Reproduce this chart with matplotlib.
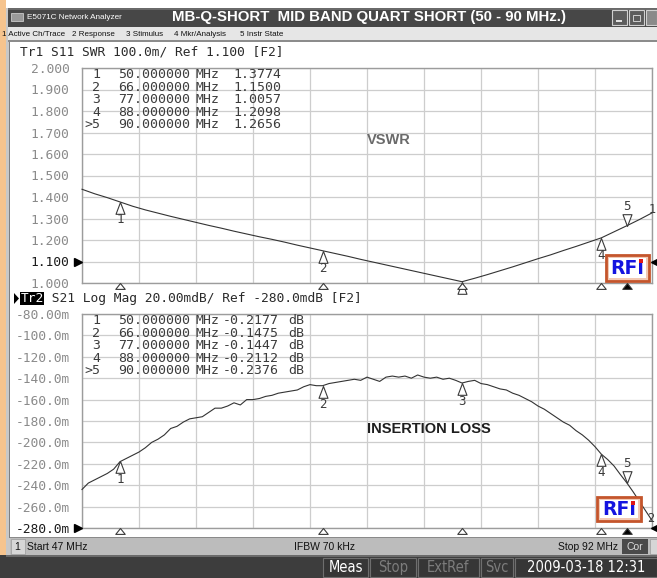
import numpy as np
import matplotlib
matplotlib.use('Agg')
import matplotlib.pyplot as plt
from matplotlib.patches import Rectangle, Polygon
from matplotlib.path import Path
from matplotlib.transforms import blended_transform_factory

# ---------------- data ----------------
start_mhz = 47.0
stop_mhz = 92.0

vswr_freq_mhz = [47, 48, 49, 50, 51, 52, 53, 54, 55, 56, 57, 58, 59, 60, 61, 62,
                 63, 64, 65, 66, 67, 68, 69, 70, 71, 72, 73, 74, 75, 76, 77, 78,
                 79, 80, 81, 82, 83, 84, 85, 86, 87, 88, 89, 90, 91, 92]
vswr_values = [1.436, 1.415, 1.397, 1.377, 1.357, 1.340, 1.325, 1.310, 1.296, 1.282,
               1.268, 1.255, 1.241, 1.228, 1.215, 1.203, 1.190, 1.176, 1.163, 1.150,
               1.137, 1.124, 1.110, 1.097, 1.084, 1.071, 1.058, 1.045, 1.032, 1.019,
               1.006, 1.022, 1.039, 1.057, 1.075, 1.094, 1.113, 1.131, 1.151, 1.170,
               1.190, 1.210, 1.238, 1.266, 1.295, 1.326]

il_freq_mhz = np.linspace(start_mhz, stop_mhz, 91)
il_values_mdb = [-244, -238, -235, -232, -229, -225, -218, -215, -212, -209,
                 -205, -200, -197, -193, -187, -185, -181, -178, -177, -176,
                 -172, -168, -168, -166, -163, -165, -160, -160, -159, -157,
                 -156, -154, -153, -152, -151, -148, -146, -147, -147, -145,
                 -144, -143, -142, -141, -142, -139, -141, -143, -139, -138,
                 -139, -138, -140, -137, -139, -140, -139, -141, -140, -142,
                 -144.5, -143, -142, -145, -146, -148, -150, -151, -154, -156,
                 -159, -162, -166, -169, -173, -177, -181, -184, -189, -193,
                 -198, -204, -211, -216, -222, -230, -237.6, -246, -255, -264, -273]

marker_ids = ['1', '2', '3', '4', '5']
marker_table_ids = ['1', '2', '3', '4', '>5']
marker_freq_mhz = [50.0, 66.0, 77.0, 88.0, 90.0]
marker_vswr = [1.3774, 1.1500, 1.0057, 1.2098, 1.2656]
marker_il_db = [-0.2177, -0.1475, -0.1447, -0.2112, -0.2376]
active_marker = 4

vswr_ticks = [1.0, 1.1, 1.2, 1.3, 1.4, 1.5, 1.6, 1.7, 1.8, 1.9, 2.0]
vswr_tick_labels = ['1.000', '1.100', '1.200', '1.300', '1.400', '1.500',
                    '1.600', '1.700', '1.800', '1.900', '2.000']
vswr_ref = 1.1
il_ticks = [-280, -260, -240, -220, -200, -180, -160, -140, -120, -100, -80]
il_tick_labels = ['-280.0m', '-260.0m', '-240.0m', '-220.0m', '-200.0m', '-180.0m',
                  '-160.0m', '-140.0m', '-120.0m', '-100.0m', '-80.00m']
il_ref = -280

# ---------------- layout helpers ----------------
W, H = 657, 578
fig = plt.figure(figsize=(W / 100, H / 100), dpi=100)
fig.patch.set_facecolor('white')
MONO = 'DejaVu Sans Mono'
SANS = 'Liberation Sans'


def fx(x):
    return x / W


def fy(y):
    return 1 - y / H


def rect(x0, y0, x1, y1, fc, ec='none', lw=0, z=0):
    r = Rectangle((fx(x0), fy(y1)), (x1 - x0) / W, (y1 - y0) / H,
                  transform=fig.transFigure, facecolor=fc, edgecolor=ec,
                  linewidth=lw, zorder=z)
    fig.patches.append(r)
    return r


def poly(pts, fc, ec='none', lw=0, z=3):
    p = Polygon([(fx(a), fy(b)) for a, b in pts], closed=True,
                transform=fig.transFigure, facecolor=fc, edgecolor=ec,
                linewidth=lw, zorder=z)
    fig.patches.append(p)


def ftext(x, y, s, **kw):
    kw.setdefault('va', 'center')
    return fig.text(fx(x), fy(y), s, **kw)


def tri_path(pts):
    return Path(pts + [pts[0]],
                [Path.MOVETO, Path.LINETO, Path.LINETO, Path.CLOSEPOLY])


# ---------------- window chrome ----------------
rect(0, 0, 6, H, '#f6c48e')
rect(6, 8, 10, H, '#c8c8c8')
rect(9, 41, 10, 538, '#808080')
# title bar
rect(8, 8, W, 27, '#474747')
rect(8, 8, W, 10, '#6a6a6a')
rect(11, 13, 23, 21, '#9a9a9a', ec='#dddddd', lw=0.5)
ftext(27, 17.5, 'E5071C Network Analyzer', color='white', fontsize=5.9,
      family=['Liberation Sans Narrow', SANS])
ftext(172, 17, 'MB-Q-SHORT  MID BAND QUART SHORT (50 - 90 MHz.)', color='white',
      fontsize=10.8, fontweight='bold', family=SANS)
for bx0, bx1 in [(612, 627), (629, 644)]:
    rect(bx0, 10, bx1, 25, '#5c5c5c', ec='#d0d0d0', lw=0.8, z=1)
rect(616, 20, 622, 21.5, '#e0e0e0', z=2)
rect(633, 15, 640, 21, 'none', ec='#e0e0e0', lw=0.6, z=2)
rect(646, 10, W, 25, '#8a8a8a', ec='#d0d0d0', lw=0.8, z=1)
# menu bar
rect(8, 27, W, 40, '#e6e6e6')
rect(8, 40, W, 41.5, '#8c8c8c')
for mx, mt in [(2, '1 Active Ch/Trace'), (72, '2 Response'), (126, '3 Stimulus'),
               (174, '4 Mkr/Analysis'), (240, '5 Instr State')]:
    ftext(mx, 34, mt, fontsize=5.8, color='#111111',
          family=['Liberation Sans Narrow', SANS])

# status bar
rect(10, 537, W, 555, '#bcbcbc')
rect(10, 537, W, 538, '#8a8a8a')
rect(11, 539, 25, 554, '#d6d6d6', ec='#9a9a9a', lw=0.5, z=1)
ftext(14, 546.5, '1', fontsize=7.5, color='#111111', family=SANS)
ftext(27, 546.5, 'Start %g MHz' % start_mhz, fontsize=7.5, color='#111111', family=SANS)
ftext(325, 546.5, 'IFBW 70 kHz', fontsize=7.5, color='#111111', family=SANS, ha='center')
ftext(618, 546.5, 'Stop %g MHz' % stop_mhz, fontsize=7.5, color='#111111', family=SANS,
      ha='right')
rect(622, 539, 648, 554, '#4a4a4a', z=1)
ftext(635, 546.5, 'Cor', fontsize=7.5, color='#dddddd', family=SANS, ha='center')
rect(650, 539, W, 554, '#d6d6d6', ec='#9a9a9a', lw=0.5, z=1)

# bottom dark bar
rect(0, 555, W, H, '#3d3d3d')
rect(6, 555, W, 556.5, '#6a6a6a')
for bx0, bx1, txt, col in [(323, 368, 'Meas', 'white'), (370, 416, 'Stop', '#7c7c7c'),
                           (418, 479, 'ExtRef', '#7c7c7c'), (481, 513, 'Svc', '#7c7c7c'),
                           (515, W, '2009-03-18 12:31', 'white')]:
    rect(bx0, 558, bx1, 577, '#363636', ec='#6e6e6e', lw=0.8, z=1)
    ftext((bx0 + bx1) / 2, 567.5, txt, fontsize=10.5, color=col, ha='center',
          family='DejaVu Sans', fontstretch='condensed')

# ---------------- plot panels ----------------
tri_up = tri_path([(0, 0), (-0.38, -1), (0.38, -1)])
tri_dn = tri_path([(0, 0), (-0.38, 1), (0.38, 1)])
axis_tri = tri_path([(0, 0), (-0.8, -1), (0.8, -1)])
TRACE = '#333333'
LABEL = '#3c3c3c'
GRID = '#cdcdcd'


def make_panel(top, bottom, xs, ys, ylim, ticks, labels, ref, mvals, tbl_vals, unit):
    ax = fig.add_axes([fx(82), fy(bottom), 570 / W, (bottom - top) / H])
    ax.set_xlim(start_mhz, stop_mhz)
    ax.set_ylim(*ylim)
    ax.set_xticks(np.linspace(start_mhz, stop_mhz, 11))
    ax.set_yticks(ticks)
    ax.set_yticklabels(labels, family=MONO, fontsize=9.3, color='#8a8a8a')
    for t, v in zip(ax.get_yticklabels(), ticks):
        if v == ref:
            t.set_color('#1a1a1a')
    ax.tick_params(axis='x', length=0, labelbottom=False)
    ax.tick_params(axis='y', length=0, pad=9)
    ax.grid(True, color=GRID, linewidth=0.9)
    ax.set_axisbelow(True)
    for s in ax.spines.values():
        s.set_color('#9c9c9c')
        s.set_linewidth(1.0)
    ax.plot(xs, ys, color=TRACE, linewidth=0.8, zorder=3, clip_on=False)

    # trace markers
    for i, (f, v) in enumerate(zip(marker_freq_mhz, mvals)):
        up = i != active_marker
        ax.plot([f], [v], marker=tri_up if up else tri_dn, ms=17, mfc='white',
                mec='#3a3a3a', mew=0.8, linestyle='none', zorder=5, clip_on=False)
        ax.annotate(marker_ids[i], (f, v), xytext=(0, -18 if up else 19),
                    textcoords='offset pixels', ha='center', va='center',
                    family=MONO, fontsize=9, color=LABEL, zorder=6, clip_on=True)
    # stimulus markers below the axis
    bt = blended_transform_factory(ax.transData, ax.transAxes)
    for i, f in enumerate(marker_freq_mhz):
        act = i == active_marker
        ax.plot([f], [0], marker=axis_tri, ms=8.5, transform=bt, linestyle='none',
                mfc='black' if act else 'white', mec='#3a3a3a', mew=0.8,
                clip_on=False, zorder=6)
    # reference position arrows
    rt = blended_transform_factory(ax.transAxes, ax.transData)
    ax.plot([-0.007], [ref], marker='>', ms=6, color='black', transform=rt,
            clip_on=False, zorder=6)
    ax.plot([1.006], [ref], marker='<', ms=6, color='black', transform=rt,
            clip_on=False, zorder=6)

    # marker table
    for r in range(5):
        yy = top + 6.5 + r * 12.6
        ftext(100, yy, marker_table_ids[r], family=MONO, fontsize=9.5, color=LABEL,
              ha='right', zorder=7)
        ftext(118, yy, '%.6f' % marker_freq_mhz[r], family=MONO, fontsize=9.5,
              color=LABEL, zorder=7)
        ftext(195, yy, 'MHz', family=MONO, fontsize=9.5, color=LABEL, zorder=7)
        ftext(233 if unit == '' else 223, yy, tbl_vals[r], family=MONO, fontsize=9.5,
              color=LABEL, zorder=7)
        if unit:
            ftext(288, yy, unit, family=MONO, fontsize=9.5, color=LABEL, zorder=7)
    return ax


ax1 = make_panel(68, 283, vswr_freq_mhz, vswr_values, (1.0, 2.0), vswr_ticks,
                 vswr_tick_labels, vswr_ref, marker_vswr,
                 ['%.4f' % v for v in marker_vswr], '')
ax1.annotate('1', (vswr_freq_mhz[-1], vswr_values[-1]), xytext=(0, 3),
             textcoords='offset pixels', ha='center', va='center', family=MONO,
             fontsize=8.5, color=LABEL, annotation_clip=False)

il_marker_mdb = [v * 1000 for v in marker_il_db]
ax2 = make_panel(314, 528, il_freq_mhz, il_values_mdb, (-280, -80), il_ticks,
                 il_tick_labels, il_ref, il_marker_mdb,
                 ['%.4f' % v for v in marker_il_db], 'dB')
ax2.annotate('2', (il_freq_mhz[-1], il_values_mdb[-1]), xytext=(-1, 2),
             textcoords='offset pixels', ha='center', va='center', family=MONO,
             fontsize=8.5, color=LABEL, annotation_clip=False)

# headers
ftext(20, 52, 'Tr1 S11 SWR 100.0m/ Ref 1.100 [F2]', family=MONO, fontsize=9.3,
      color='#2a2a2a')
poly([(14, 293), (19, 298.5), (14, 304)], 'black')
rect(20, 292, 44, 305, 'black', z=2)
ftext(20.5, 298.5, 'Tr2', family=MONO, fontsize=9.3, color='white', zorder=3)
ftext(20.5 + 3 * 7.78, 298.5, ' S21 Log Mag 20.00mdB/ Ref -280.0mdB [F2]',
      family=MONO, fontsize=9.3, color='#2a2a2a')

# titles
ftext(367, 140, 'VSWR', fontsize=10.5, fontweight='bold', color='#6a6a6a', family=SANS)
ftext(367, 429, 'INSERTION LOSS', fontsize=10.5, fontweight='bold', color='#1e1e1e',
      family=SANS)


# RFI logos
def logo(x0, y0, x1, y1):
    rect(x0, y0, x1, y1, '#f2c9b4', ec='#c4552c', lw=2.0, z=8)
    rect(x0 + 3, y0 + 3, x1 - 3, y1 - 3, 'white', z=9)
    ftext((x0 + x1) / 2, (y0 + y1) / 2 + 0.5, 'RFı', fontsize=13.5, fontweight='bold',
          color='#1414e0', ha='center', family='DejaVu Sans', zorder=10)
    rect(x1 - 10.5, y0 + 4, x1 - 6.5, y0 + 7.5, '#e01818', z=11)


logo(606, 255, 649, 281)
logo(597, 497, 641, 521)

fig.savefig('out.png', dpi=100, facecolor=fig.get_facecolor())
